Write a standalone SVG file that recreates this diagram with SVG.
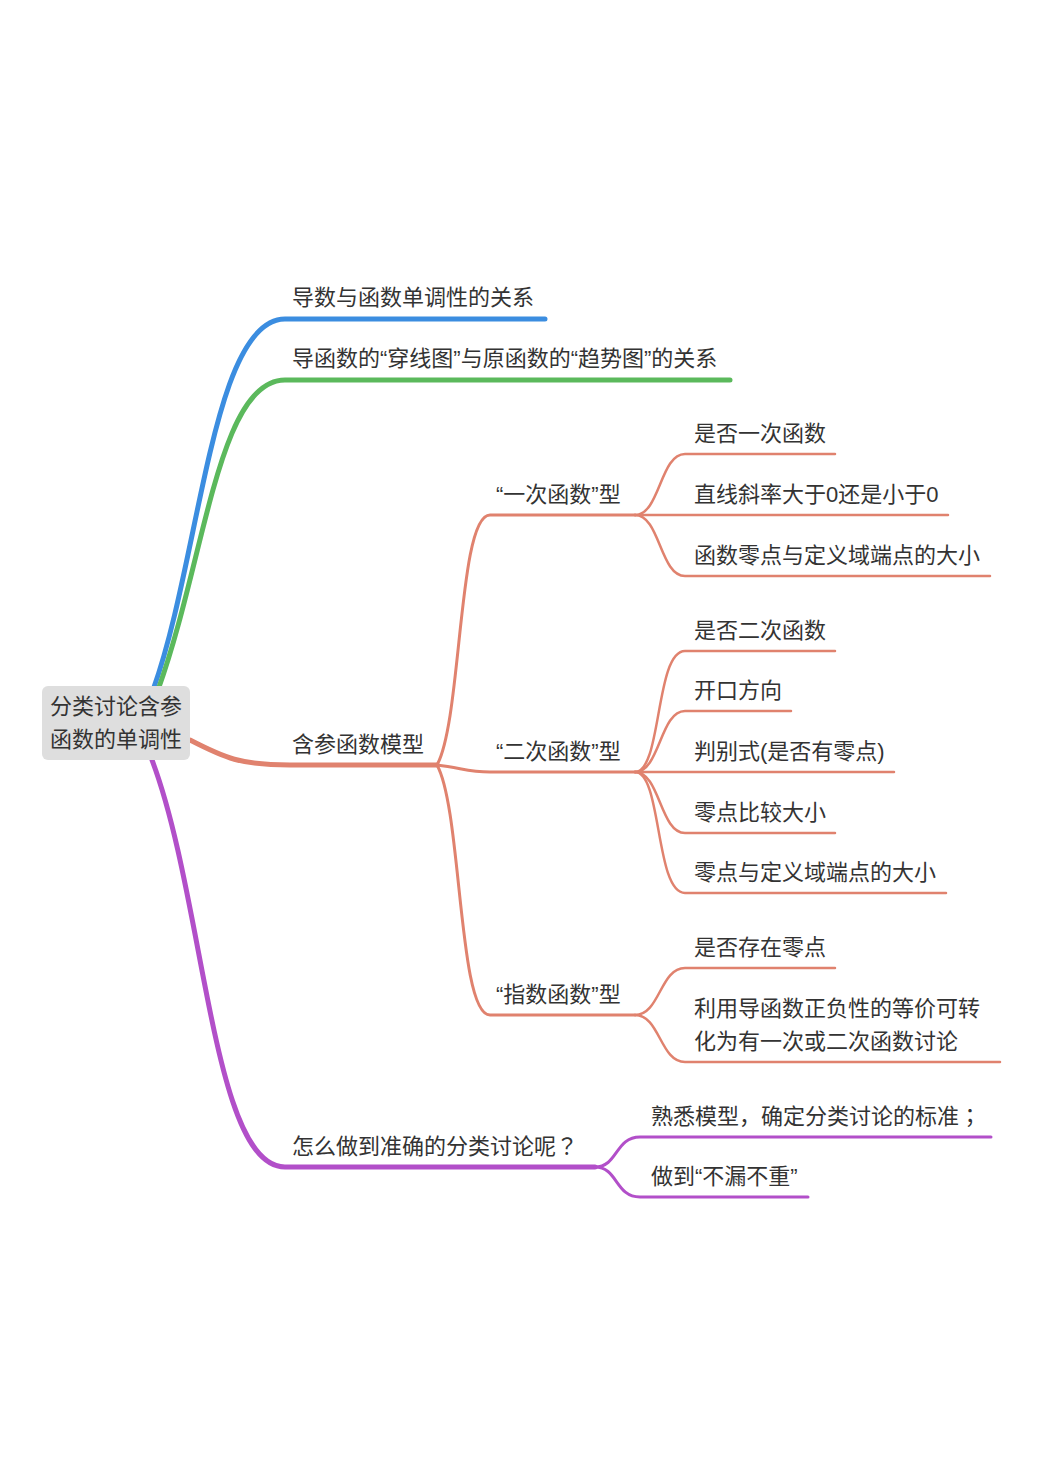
<svg xmlns="http://www.w3.org/2000/svg" width="1042" height="1476" viewBox="0 0 1042 1476">
<style>
text{font-family:"Liberation Sans","Noto Sans CJK SC",sans-serif;font-size:22px;fill:#333333}
.pu{font-family:"Noto Sans CJK TC",sans-serif}
.pk{font-family:"Noto Sans CJK KR",sans-serif}
.c{fill:none;stroke-linecap:round}
.b{stroke:#3b8de0;stroke-width:5}
.g{stroke:#5bb95c;stroke-width:5}
.o1{stroke:#e0826e;stroke-width:5}
.p1{stroke:#b24fc9;stroke-width:5}
.o2{stroke:#e0826e;stroke-width:3}
.o3{stroke:#e0826e;stroke-width:2.5}
.p2{stroke:#b24fc9;stroke-width:3}
</style>
<rect width="1042" height="1476" fill="#ffffff"/>
<g id="connectors">
<path class="c b" d="M153,690 C200,560 212,319 285,319 L545,319"/>
<path class="c g" d="M158,690 C205,560 218,380 285,380 L730,380"/>
<path class="c o1" d="M190,740 C225,758 240,765 290,765 L437,765"/>
<path class="c p1" d="M152,760 C205,900 212,1167 285,1167 L595,1167"/>
<path class="c o2" d="M437,765 C462,720 458,515 490,515 L635,515"/>
<path class="c o2" d="M437,765 C462,768 468,772 490,772 L635,772"/>
<path class="c o2" d="M437,765 C462,810 458,1015 490,1015 L635,1015"/>
<path class="c o3" d="M635,515 C660,515 660,454 685,454 L835,454"/>
<path class="c o3" d="M635,515 L948,515"/>
<path class="c o3" d="M635,515 C660,515 660,576 685,576 L990,576"/>
<path class="c o3" d="M635,772 C662,772 655,651 685,651 L835,651"/>
<path class="c o3" d="M635,772 C660,772 660,711 685,711 L791,711"/>
<path class="c o3" d="M635,772 L894,772"/>
<path class="c o3" d="M635,772 C660,772 660,833 685,833 L835,833"/>
<path class="c o3" d="M635,772 C662,772 655,893 685,893 L946,893"/>
<path class="c o3" d="M635,1015 C660,1015 660,968 685,968 L835,968"/>
<path class="c o3" d="M635,1015 C660,1015 660,1062 685,1062 L1000,1062"/>
<path class="c p2" d="M595,1167 C618,1167 615,1137 640,1137 L991,1137"/>
<path class="c p2" d="M595,1167 C618,1167 615,1197 640,1197 L808,1197"/>
</g>
<g id="root">
<rect x="42" y="686" width="148" height="74" rx="6" fill="#dedede"/>
<text x="50" y="714">分类讨论含参</text>
<text x="50" y="747">函数的单调性</text>
</g>
<g id="n1"><text x="292" y="305">导数与函数单调性的关系</text></g>
<g id="n2"><text x="292" y="366">导函数的“穿线图”与原函数的“趋势图”的关系</text></g>
<g id="n3"><text x="292" y="752">含参函数模型</text></g>
<g id="n4"><text x="292" y="1154">怎么做到准确的分类讨论呢<tspan class="pu">？</tspan></text></g>
<g id="n31"><text x="496" y="502">“一次函数”型</text></g>
<g id="n32"><text x="496" y="759">“二次函数”型</text></g>
<g id="n33"><text x="496" y="1002">“指数函数”型</text></g>
<g id="n311"><text x="694" y="441">是否一次函数</text></g>
<g id="n312"><text x="694" y="502">直线斜率大于0还是小于0</text></g>
<g id="n313"><text x="694" y="563">函数零点与定义域端点的大小</text></g>
<g id="n321"><text x="694" y="638">是否二次函数</text></g>
<g id="n322"><text x="694" y="698">开口方向</text></g>
<g id="n323"><text x="694" y="759">判别式(是否有零点)</text></g>
<g id="n324"><text x="694" y="820">零点比较大小</text></g>
<g id="n325"><text x="694" y="880">零点与定义域端点的大小</text></g>
<g id="n331"><text x="694" y="955">是否存在零点</text></g>
<g id="n332"><text x="694" y="1016">利用导函数正负性的等价可转</text><text x="694" y="1049">化为有一次或二次函数讨论</text></g>
<g id="n41"><text x="651" y="1124">熟悉模型<tspan class="pk">，</tspan>确定分类讨论的标准<tspan class="pu">；</tspan></text></g>
<g id="n42"><text x="651" y="1184">做到“不漏不重”</text></g>
</svg>
